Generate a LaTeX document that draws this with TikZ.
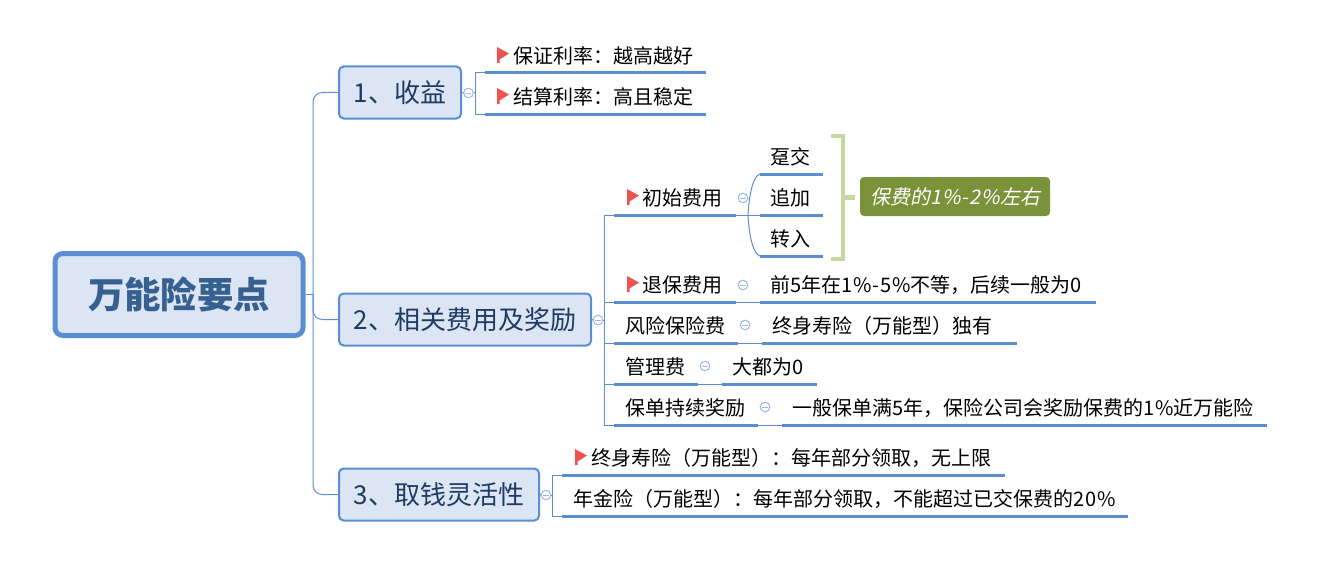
\documentclass[tikz,border=0pt]{standalone}
\usepackage{fontspec}
\setmainfont{Noto Sans CJK SC}
\newfontfamily\slantfont[FakeSlant=0.2]{Noto Sans CJK SC}
\usetikzlibrary{calc}
\definecolor{linkblue}{HTML}{5B8DD3}
\definecolor{fillblue}{HTML}{DBE5F3}
\definecolor{topicink}{HTML}{1F3A63}
\definecolor{rootink}{HTML}{36608F}
\definecolor{flagred}{HTML}{EF5350}
\definecolor{sumgreen}{HTML}{C6D89F}
\definecolor{labelgreen}{HTML}{7A933B}
\definecolor{foldblue}{HTML}{9DB9E3}
\newcommand{\pxl}[1]{\dimexpr\the\numexpr#1\relax pt*75/100\relax}
\newcommand{\tdown}[1]{\raisebox{-1pt}{#1}}
\newcommand{\wdn}[1]{{\addfontfeature{LetterSpace=4}#1}}
\tikzset{
  x=0.75pt,y=-0.75pt,
  link/.style={draw=linkblue,line width=0.75pt},
  uline/.style={draw=linkblue,line width=2.25pt},
  rootbox/.style={draw=linkblue,line width=3.75pt,fill=fillblue,rounded corners=6pt,minimum width=186pt,minimum height=61.5pt,inner sep=0pt,text=rootink,font=\fontsize{27.3}{30}\selectfont\bfseries},
  topicbox/.style={draw=linkblue,line width=1.5pt,fill=fillblue,rounded corners=3.5pt,minimum height=39pt,inner sep=0pt,text=topicink,font=\fontsize{19.5}{22}\selectfont},
  leaf/.style={anchor=south west,inner sep=0pt,minimum height=25.5pt,align=left,text=black,font=\fontsize{15}{18}\selectfont},
  fold/.style={circle,draw=foldblue,line width=0.75pt,fill=white,minimum size=7.2pt,inner sep=0pt,
    path picture={\draw[foldblue,line width=0.6pt] ([xshift=-2pt]path picture bounding box.center)--([xshift=2pt]path picture bounding box.center);}},
  sumbracket/.style={draw=sumgreen,line width=3.5pt},
  sumlabel/.style={fill=labelgreen,rounded corners=3pt,minimum width=142.5pt,minimum height=29.25pt,inner sep=0pt,text=white,font=\fontsize{15}{18}\selectfont\slantfont},
  flagmark/.pic={\fill[flagred] (0,-8)--(12,-1.5)--(2.5,4.5)--(2.5,8)--(0,8)--cycle;}
}
% name, left x, right x, underline y, left padding px, text
\newcommand{\leafnode}[6]{%
  \node[leaf,text width=\pxl{#3-#2}] (#1) at (#2,#4) {\hspace*{\pxl{#5}}#6};%
  \draw[uline] (#1.south west)--(#1.south east);}
\begin{document}
\begin{tikzpicture}
\useasboundingbox (0,0) rectangle (1320,585);
\fill[white] (0,0) rectangle (1320,585);

% connectors from the root
\node[rootbox] (root) at (179,294.5) {万能险要点};
\node[topicbox,minimum width=91.5pt] (t1) at (400,92.5) {\tdown{1、收益}};
\node[topicbox,minimum width=189pt] (t2) at (465,319.5) {\tdown{2、相关费用及奖励}};
\node[topicbox,minimum width=150pt] (t3) at (439,494.5) {\tdown{3、取钱灵活性}};
\coordinate (trunk) at (313,294);
\draw[link,rounded corners=7pt] (t1.west)--(trunk|-t1.west)--(trunk|-t3.west)--(t3.west);
\draw[link] (root.east|-trunk)--(trunk);
\draw[link,rounded corners=7pt] (trunk)--(trunk|-t2.west)--(t2.west);

% topic 1
\leafnode{a1}{485}{705}{73}{28}{保证利率：越高越好}
\leafnode{a2}{485}{705}{114}{28}{结算利率：高且稳定}
\pic at (497,55) {flagmark};
\pic at (497,96) {flagmark};
\node[fold] (f1) at (468.5,93) {};
\draw[link] (t1.east)--(f1.west);
\draw[link] (f1.east)--(475,93);
\draw[link] (a1.south west)--(475,73)--(475,114)--(a2.south west);

% topic 2
\leafnode{b1}{614}{735}{215}{28}{初始费用}
\leafnode{b2}{614}{735}{302}{28}{退保费用}
\leafnode{b3}{614}{737}{343}{11}{风险保险费}
\leafnode{b4}{614}{697}{384}{11}{管理费}
\leafnode{b5}{614}{757}{425}{11}{保单持续奖励}
\pic at (627,197) {flagmark};
\pic at (627,284) {flagmark};
\coordinate (trunkb) at (604,320);
\node[fold] (f2) at (598,320) {};
\draw[link] (t2.east)--(f2.west);
\draw[link] (f2.east)--(trunkb);
\draw[link] (b1.south west)--(trunkb|-b1.south west)--(trunkb|-b5.south west)--(b5.south west);
\draw[link] (trunkb|-b2.south west)--(b2.south west);
\draw[link] (trunkb|-b3.south west)--(b3.south west);
\draw[link] (trunkb|-b4.south west)--(b4.south west);

% initial fee children
\leafnode{c1}{760}{822}{174}{10}{趸交}
\leafnode{c2}{760}{822}{215}{10}{追加}
\leafnode{c3}{760}{822}{256}{10}{转入}
\node[fold] (f3) at (743,198) {};
\draw[link] (b1.south east)--(c2.south west);
\draw[link] (748,215) .. controls (749,195) and (753,176) .. (c1.south west);
\draw[link] (748,215) .. controls (749,235) and (753,254) .. (c3.south west);

% other children
\leafnode{d2}{760}{1095}{302}{10}{前\wdn{5}年在\wdn{1\%-5\%}不等，后续一般为\wdn{0}}
\leafnode{d3}{762}{1016}{343}{10}{终身寿险（万能型）独有}
\leafnode{d4}{722}{816}{384}{10}{大都为\wdn{0}}
\leafnode{d5}{782}{1266}{425}{10}{一般保单满\wdn{5}年，保险公司会奖励保费的\wdn{1\%}近万能险}
\node[fold] (f4) at (743,285) {};
\node[fold] (f5) at (745,325) {};
\node[fold] (f6) at (705,366) {};
\node[fold] (f7) at (765,407) {};
\draw[link] (b2.south east)--(d2.south west);
\draw[link] (b3.south east)--(d3.south west);
\draw[link] (b4.south east)--(d4.south west);
\draw[link] (b5.south east)--(d5.south west);

% summary
\node[sumlabel] (s) at (955,196.5) {保费的{\addfontfeature{LetterSpace=5}1\%-2\%}左右};
\coordinate (st) at (831,136);
\coordinate (sb) at (831,259);
\draw[sumbracket] (st)--(843,136)--(843,259)--(sb);
\draw[sumbracket] (843,197.5)--(855,197.5);

% topic 3
\leafnode{e1}{562}{1004}{475}{29}{终身寿险（万能型）：每年部分领取，无上限}
\leafnode{e2}{562}{1127}{516}{11}{年金险（万能型）：每年部分领取，不能超过已交保费的\wdn{20\%}}
\pic at (575,457) {flagmark};
\node[fold] (f8) at (546,495) {};
\draw[link] (t3.east)--(f8.west);
\draw[link] (f8.east)--(552,495);
\draw[link] (e1.south west)--(552,475)--(552,516)--(e2.south west);
\end{tikzpicture}
\end{document}
